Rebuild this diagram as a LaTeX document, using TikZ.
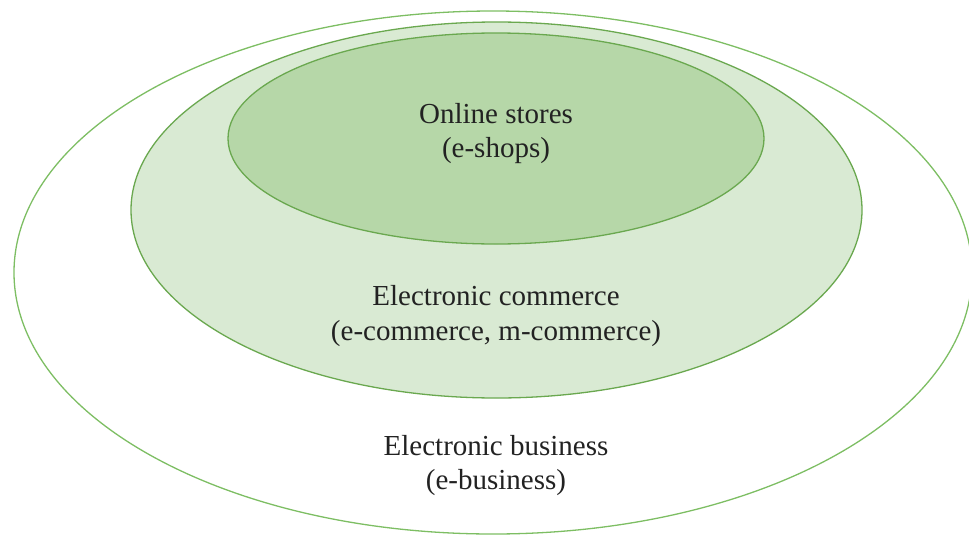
\documentclass[tikz,border=0pt]{standalone}
\usepackage{fontspec}
\setmainfont{Liberation Serif}
\definecolor{gstroke}{HTML}{6AA84F}
\definecolor{gouter}{HTML}{7DBE63}
\definecolor{gmid}{HTML}{D9EAD3}
\definecolor{ginner}{HTML}{B6D7A8}
\definecolor{txt}{HTML}{222222}
\tikzset{
  lbl/.style={anchor=base, inner sep=0pt, text=txt, font=\fontsize{29}{34}\selectfont},
  ring/.style={line width=1.3pt, draw=gstroke}
}
\begin{document}
\begin{tikzpicture}[x=1pt,y=-1pt]
\useasboundingbox (0,0) rectangle (969,536);
% outer: Electronic business
\draw[ring, draw=gouter, fill=white] (493,272.5) ellipse [x radius=479pt, y radius=261.5pt];
% middle: Electronic commerce
\draw[ring, fill=gmid] (496.5,210) ellipse [x radius=365.5pt, y radius=188pt];
% inner: Online stores
\draw[ring, fill=ginner] (496,138.5) ellipse [x radius=268pt, y radius=105.5pt];
\node[lbl] (os1) at (496,123) {Online stores};
\node[lbl] (os2) at (496,157) {(e-shops)};
\node[lbl] (ec1) at (496,305) {Electronic commerce};
\node[lbl] (ec2) at (496,340) {(e-commerce, m-commerce)};
\node[lbl] (eb1) at (496,455) {Electronic business};
\node[lbl] (eb2) at (496,489) {(e-business)};
\end{tikzpicture}
\end{document}
